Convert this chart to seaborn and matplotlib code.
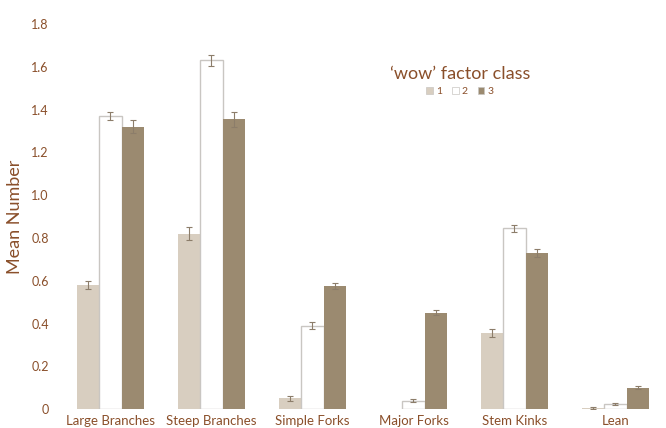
import matplotlib
matplotlib.use("Agg")
import matplotlib.pyplot as plt
import seaborn as sns
import pandas as pd
import numpy as np

categories = ["Large Branches", "Steep Branches", "Simple Forks", "Major Forks", "Stem Kinks", "Lean"]
classes = ["1", "2", "3"]
class1 = [0.58, 0.82, 0.05, 0.0, 0.355, 0.005]
class2 = [1.37, 1.63, 0.39, 0.04, 0.845, 0.025]
class3 = [1.32, 1.355, 0.575, 0.45, 0.73, 0.10]
err1 = [0.02, 0.03, 0.01, 0.0, 0.02, 0.003]
err2 = [0.02, 0.025, 0.015, 0.006, 0.015, 0.004]
err3 = [0.03, 0.035, 0.015, 0.012, 0.02, 0.006]
yticks = [0, 0.2, 0.4, 0.6, 0.8, 1.0, 1.2, 1.4, 1.6, 1.8]
ytick_labels = ["0", "0.2", "0.4", "0.6", "0.8", "1.0", "1.2", "1.4", "1.6", "1.8"]

rows = []
for vals, c in zip([class1, class2, class3], classes):
    for cat, v in zip(categories, vals):
        rows.append({"feature": cat, "cls": c, "mean": v})
df = pd.DataFrame(rows)

sns.set_theme(style="white")
plt.rcParams["font.family"] = ["Lato", "DejaVu Sans"]

brown = "#8a4f2a"
colors = {"1": "#d8cec0", "2": "#ffffff", "3": "#9b8a70"}

fig = plt.figure(figsize=(6.66, 4.28), dpi=100)
ax = fig.add_axes([0.09, 0.044, 0.91, 0.9])
sns.barplot(data=df, x="feature", y="mean", hue="cls", order=categories, hue_order=classes,
            palette=colors, errorbar=None, width=0.67, ax=ax, linewidth=0, saturation=1)

errs = [err1, err2, err3]
for ci, (cont, e) in enumerate(zip(ax.containers, errs)):
    for bar, err in zip(cont, e):
        if ci == 1:
            bar.set_edgecolor("#c9c6c2")
            bar.set_linewidth(1.0)
        h = bar.get_height()
        if err > 0:
            xc = bar.get_x() + bar.get_width() / 2
            ax.errorbar(xc, h, yerr=err, fmt="none", ecolor="#8c7d6a", elinewidth=0.8,
                        capsize=2, capthick=0.8)

ax.set_ylim(0, 1.8)
ax.set_xlim(-0.5, 5.5)
ax.set_yticks(yticks)
ax.set_yticklabels(ytick_labels)
for s in ax.spines.values():
    s.set_visible(False)
ax.tick_params(axis="y", length=0, labelsize=9, colors=brown, pad=8)
ax.tick_params(axis="x", length=0, labelsize=9.5, colors=brown, pad=4.5)
ax.set_xlabel("")
ax.set_ylabel("Mean Number", fontsize=13, color=brown, labelpad=6)

leg = ax.legend(title="\u2018wow\u2019 factor class", loc="center", bbox_to_anchor=(0.66, 0.852),
                ncol=3, frameon=False, fontsize=7.5, handlelength=0.6, handleheight=0.6,
                handletextpad=0.3, columnspacing=1.0, title_fontsize=13)
leg.get_title().set_color(brown)
for t in leg.get_texts():
    t.set_color(brown)
for h in leg.legend_handles:
    h.set_edgecolor("#c9c6c2")
    h.set_linewidth(0.5)

fig.savefig("out.png", dpi=100)
